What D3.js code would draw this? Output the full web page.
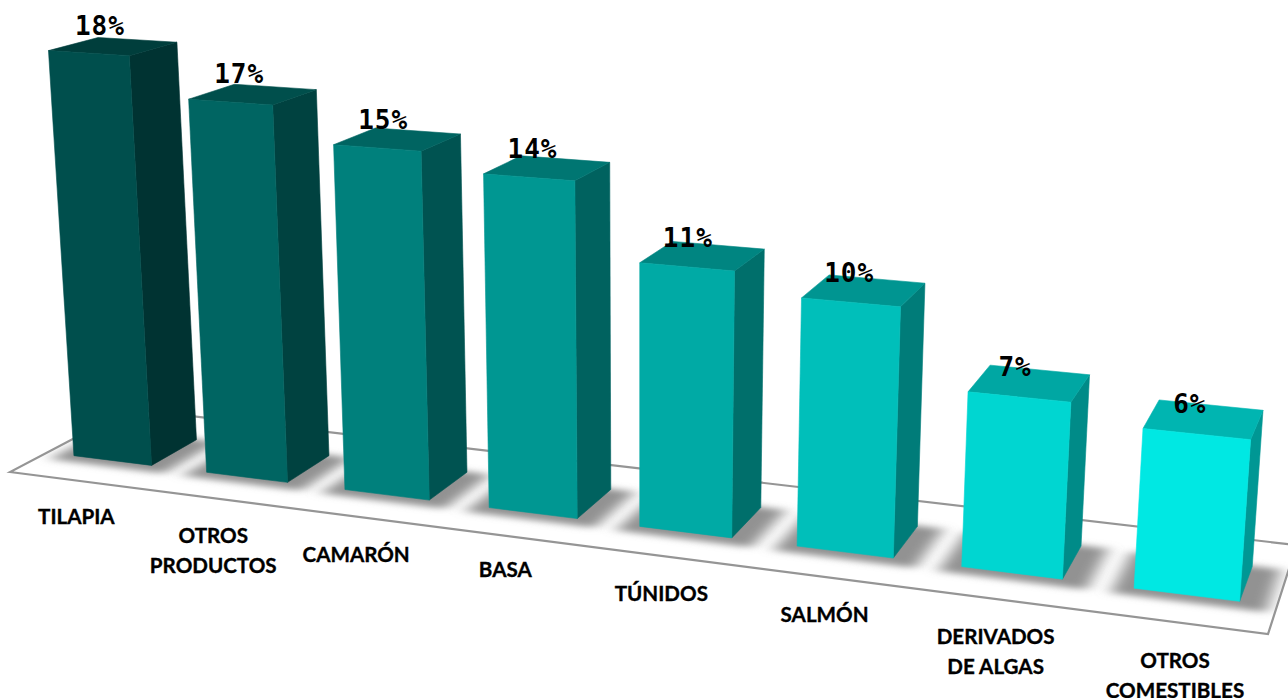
<!DOCTYPE html>
<html><head><meta charset="utf-8">
<style>html,body{margin:0;padding:0;background:#fff;overflow:hidden}svg{display:block}
.cat{font-family:Lato,"Open Sans",sans-serif;font-weight:700;font-size:20.6px;fill:#000;stroke:#000;stroke-width:0.35px;text-anchor:middle}
.val{font-family:"DejaVu Sans Mono",monospace;font-weight:700;font-size:26px;letter-spacing:1px;fill:#000;text-anchor:middle}
</style>
<script src="https://cdnjs.cloudflare.com/ajax/libs/d3/7.9.0/d3.min.js"></script>
</head><body><div id="c"></div>
<script>
const categories = ["TILAPIA","OTROS PRODUCTOS","CAMARÓN","BASA","TÚNIDOS","SALMÓN","DERIVADOS DE ALGAS","OTROS COMESTIBLES"];
const categoryLines = [["TILAPIA"],["OTROS","PRODUCTOS"],["CAMARÓN"],["BASA"],["TÚNIDOS"],["SALMÓN"],["DERIVADOS","DE ALGAS"],["OTROS","COMESTIBLES"]];
const values = [18.3,16.6,15.1,14.35,11.2,10.35,7.2,6.45];
const frontColors = ["#004f4d","#006562","#00807c","#009792","#00aaa5","#00bfba","#00d6d1","#00e8e3"];

const W = 1288, H = 698;
const svg = d3.select("#c").append("svg").attr("width",W).attr("height",H);

// Perspective camera: world (u along the axis, v depth, h value) to screen
const cam = {a:1048.8,b:130.7,c:10,d:57.4,e:-29.3,f:472,g:-0.165,i:0.0824,p:-1.536,q:-22.7,r:-0.0024};
function project(u,v,h){
  const w = cam.g*u + cam.i*v + 1 + cam.r*h;
  return [(cam.a*u + cam.b*v + cam.c + cam.p*h)/w, (cam.d*u + cam.e*v + cam.f + cam.q*h)/w];
}
const u = d3.scaleBand().domain(categories).range([0,1]).paddingInner(0.41).paddingOuter(0.205);
const depth = d3.scaleLinear().domain([0,1]).range([0.295,0.69]);
const hScale = d3.scaleLinear().domain([0,18]).range([0,18]);
const labelNudge = d3.scaleLinear().domain([0,7]).range([11,-7]);
const catNudge = [-2,0,0,-4,0,0,0,1];
const line = d3.line().curve(d3.curveLinearClosed);

const defs = svg.append("defs");
defs.append("filter").attr("id","blur").attr("x","-60%").attr("y","-150%").attr("width","220%").attr("height","400%")
  .append("feGaussianBlur").attr("stdDeviation","8 3");
const floor = [project(0,0,0),project(1,0,0),project(1,1,0),project(0,1,0)];
defs.append("clipPath").attr("id","floorClip").append("path").attr("d",line(floor));

svg.append("path").attr("d",line(floor)).attr("fill","#fff");

// floor shadows
const shadow = svg.append("g").attr("clip-path","url(#floorClip)");
shadow.selectAll("path").data(categories).join("path")
  .attr("filter","url(#blur)").attr("fill","#929292")
  .attr("d",c=>{
    const u0=u(c)-0.014,u1=u(c)+u.bandwidth()+0.02,v0=depth(-0.2),v1=depth(1.02);
    return line([project(u0,v0,0),project(u1,v0,0),project(u1,v1,0),project(u0,v1,0)]);
  });

svg.append("path").attr("d",line(floor)).attr("fill","none").attr("stroke","#959595").attr("stroke-width",2.2);

// bars
const bars = svg.selectAll("g.bar").data(categories).join("g").attr("class","bar");
const shade = (col,k)=>{const c=d3.rgb(col);return d3.rgb(c.r*k,c.g*k,c.b*k).formatHex();};
bars.each(function(c,i){
  const g=d3.select(this), u0=u(c), u1=u0+u.bandwidth(), v0=depth(0), v1=depth(1), h=hScale(values[i]);
  const face=(col,pts)=>g.append("path").attr("fill",col).attr("stroke",col).attr("stroke-width",0.6).attr("d",line(pts));
  face(shade(frontColors[i],0.65),[project(u1,v0,0),project(u1,v1,0),project(u1,v1,h),project(u1,v0,h)]);
  face(shade(frontColors[i],0.78),[project(u0,v0,h),project(u1,v0,h),project(u1,v1,h),project(u0,v1,h)]);
  face(frontColors[i],[project(u0,v0,0),project(u1,v0,0),project(u1,v0,h),project(u0,v0,h)]);
});

// value labels
const fmt = d3.format(".0f");
svg.selectAll("text.val").data(categories).join("text").attr("class","val")
  .attr("x",(c,i)=>{
    const a=project(u(c),depth(0),values[i]),b=project(u(c)+u.bandwidth(),depth(0),values[i]);
    return (a[0]+b[0])/2+labelNudge(i);
  })
  .attr("y",(c,i)=>project(u(c),depth(0),values[i])[1]-16)
  .text((c,i)=>fmt(values[i])+"%");

// category labels
const cats = svg.selectAll("text.cat").data(categories).join("text").attr("class","cat")
  .attr("transform",(c,i)=>{const p=project(u(c)+u.bandwidth()/2,0,0);return `translate(${p[0]},${p[1]+45+catNudge[i]})`;});
cats.selectAll("tspan").data((c,i)=>categoryLines[i]).join("tspan")
  .attr("x",0).attr("dy",(d,j)=>j?30:0).text(d=>d);
</script></body></html>
